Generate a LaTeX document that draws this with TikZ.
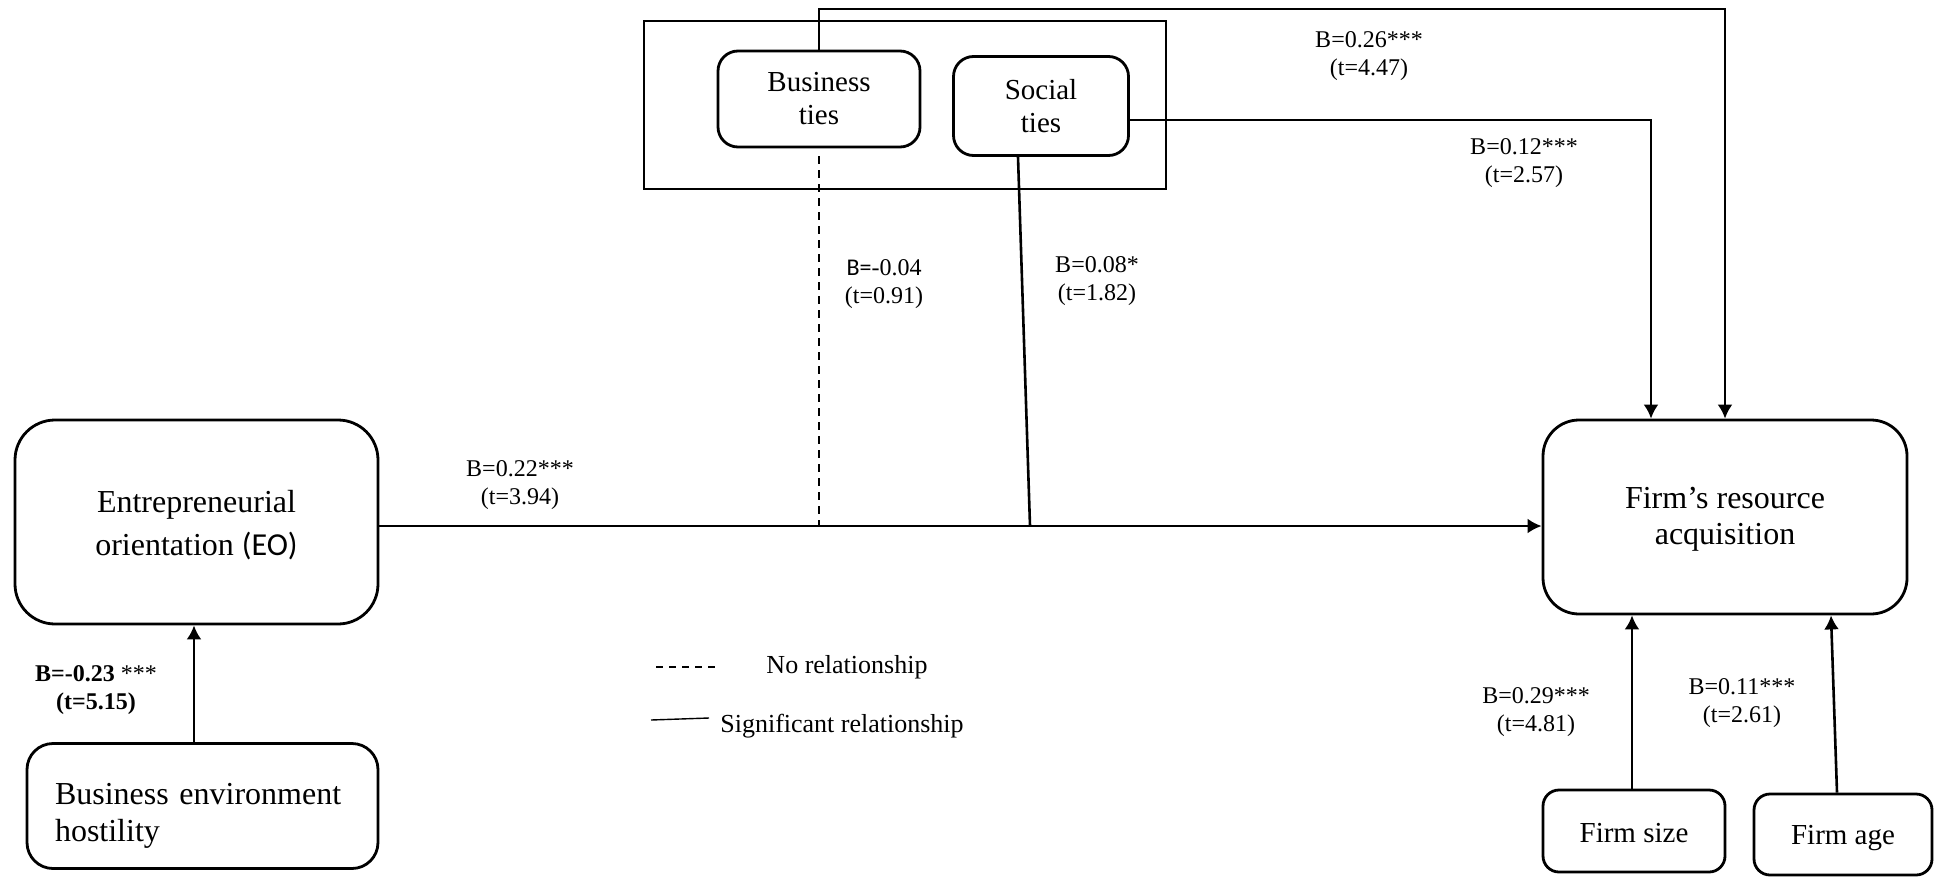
\documentclass[tikz,border=0pt]{standalone}
\usepackage{fontspec}
\setmainfont{Liberation Serif}
\newfontfamily\calibri{Carlito}
\usetikzlibrary{arrows.meta}

\begin{document}
\begin{tikzpicture}[x=0.5pt,y=-0.5pt,
  box/.style={draw,line width=1.4pt,align=center,inner sep=0pt},
  conn/.style={line width=1.3pt},
  arr/.style={conn,-{Latex[length=7pt,width=7.5pt]}},
  nolink/.style={conn,dash pattern=on 4pt off 3pt},
  lbl/.style={align=center,font=\fontsize{12}{14}\selectfont,inner sep=0pt},
  legendtxt/.style={font=\fontsize{13}{15}\selectfont,inner sep=0pt},
  bigtxt/.style={font=\fontsize{16}{21.5}\selectfont},
  midtxt/.style={font=\fontsize{14.5}{16.5}\selectfont}]
\useasboundingbox (0,0) rectangle (1937,878);

% helper heights for the horizontal runs
\coordinate (topy) at (0,9);
\coordinate (sty) at (0,120);
\coordinate (mainy) at (0,526);
\coordinate (behx) at (194,0);
\coordinate (stjoin) at (1030,526);

% moderator group
\node[draw,line width=1.4pt,minimum width=261pt,minimum height=84pt,inner sep=0pt] (ties) at (905,105) {};
\node[box,rounded corners=10pt,minimum width=101pt,minimum height=48pt,midtxt] (BT) at (819,99) {Business\\ties};
\node[box,rounded corners=10pt,minimum width=87.5pt,minimum height=49.5pt,midtxt] (ST) at (1041,106) {Social\\ties};

% main constructs
\node[box,rounded corners=20pt,minimum width=181.5pt,minimum height=102pt,bigtxt] (EO) at (196.5,522) {\rule{0pt}{14pt}Entrepreneurial\\orientation {\calibri(EO)}};
\node[box,rounded corners=18pt,minimum width=182pt,minimum height=97pt,font=\fontsize{16}{18}\selectfont] (FRA) at (1725,517) {\rule{0pt}{13pt}Firm’s resource\\acquisition};
\node[box,rounded corners=13pt,minimum width=175.5pt,minimum height=62.5pt,
  label={[name=BEHtext,text width=147.5pt,align=left,yshift=-5pt,font=\fontsize{16}{18.5}\selectfont]center:{Business environment\\hostility}}] (BEH) at (202.5,806) {};

% controls
\node[box,rounded corners=8pt,minimum width=91pt,minimum height=41pt,midtxt] (FS) at (1634,831) {\rule{0pt}{12pt}Firm size};
\node[box,rounded corners=8pt,minimum width=89pt,minimum height=40.5pt,midtxt] (FA) at (1843,834.5) {\rule{0pt}{13pt}Firm age};

% paths
\draw[arr] (EO.east |- mainy) -- (FRA.west |- mainy);
\draw[arr] (BT.north) -- (BT.north |- topy) -| (FRA.north);
\draw[arr] (ST.east |- sty) -| ([xshift=-37pt]FRA.north);
\draw[nolink,shorten <=4pt] (BT.south) -- (BT.south |- mainy);
\draw[conn] ([xshift=-11.5pt]ST.south) -- (stjoin);
\draw[arr] (BEH.north -| behx) -- (EO.south -| behx);
\draw[arr] ([xshift=-1pt]FS.north) -- ([xshift=-1pt]FS.north |- FRA.south);
\draw[arr] ([xshift=-3pt]FA.north) -- ([xshift=-6pt]FA.north |- FRA.south);

% coefficients
\node[lbl] (l1) at (520,485) {B=0.22***\\(t=3.94)};
\node[lbl] (l2) at (884,284) {{\calibri B=}-0.04\\(t=0.91)};
\node[lbl] (l3) at (1097,281) {B=0.08*\\(t=1.82)};
\node[lbl] (l4) at (1369,56) {B=0.26***\\(t=4.47)};
\node[lbl] (l5) at (1524,163) {B=0.12***\\(t=2.57)};
\node[lbl] (l6) at (1536,712) {B=0.29***\\(t=4.81)};
\node[lbl] (l7) at (1742,703) {B=0.11***\\(t=2.61)};
\node[lbl] (l8) at (96,690) {\bfseries B=-0.23 \mdseries***\\\bfseries(t=5.15)};

% legend
\coordinate (lgda) at (656,667);
\coordinate (lgdb) at (721,667);
\coordinate (lgsa) at (651,720);
\coordinate (lgsb) at (709,718);
\draw[line width=0.7pt,dash pattern=on 3.5pt off 3pt] (lgda) -- (lgdb);
\draw[line width=0.7pt] (lgsa) -- (lgsb);
\node[legendtxt] (lgdt) at (847,667) {No relationship};
\node[legendtxt] (lgst) at (842,726) {Significant relationship};
\end{tikzpicture}
\end{document}
